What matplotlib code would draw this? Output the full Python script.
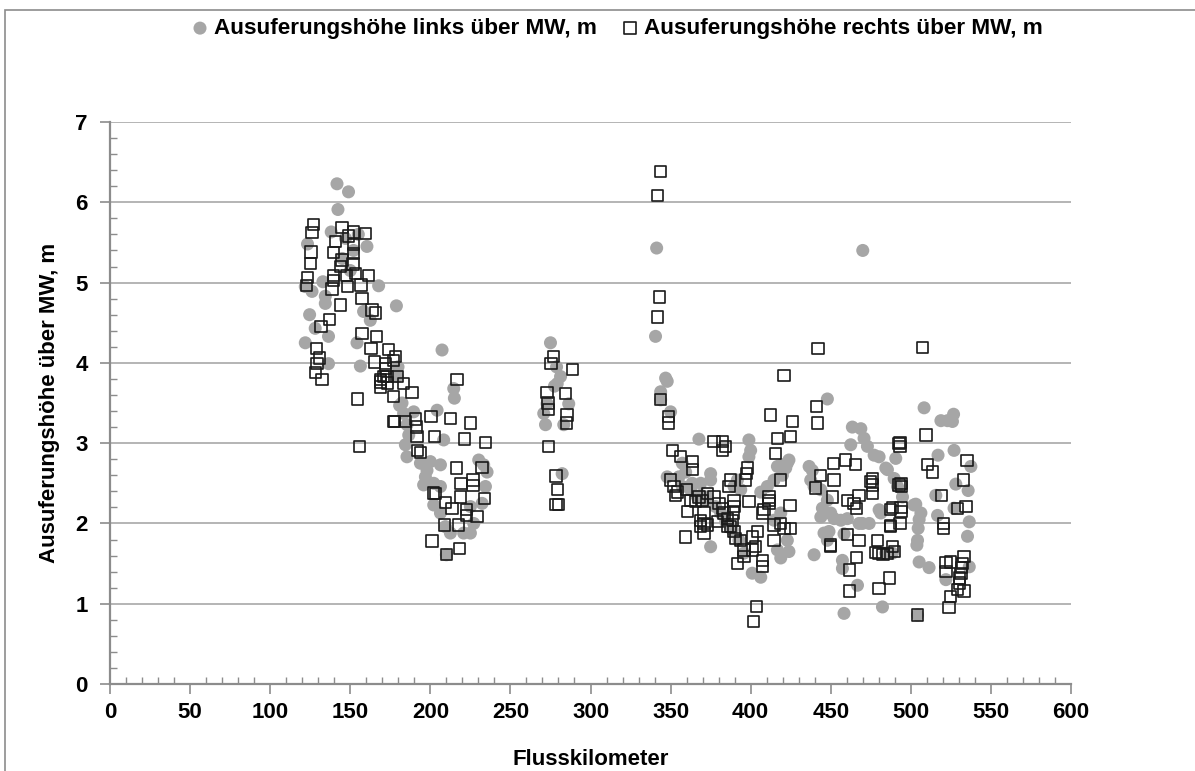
import matplotlib
matplotlib.use("Agg")
import matplotlib.pyplot as plt
from matplotlib.patches import Rectangle
from matplotlib.ticker import MultipleLocator

plt.rcParams["font.family"] = ["Liberation Sans", "DejaVu Sans"]
plt.rcParams["font.weight"] = "bold"

# Ausuferungshöhe links (grey circles): Flusskilometer, Höhe über MW [m]
links_km = [
    141.7, 148.9, 142.3, 138.1, 123.3, 160.4, 167.7, 178.8, 132.9, 121.9, 126.1, 134.4,
    134.4, 124.6, 128.1, 136.4, 121.9, 154.2, 156.3, 136.4, 158.3, 162.5, 179.8, 180.8,
    145.0, 150.0, 152.0, 147.0, 155.0, 179.2, 207.3, 214.6, 215.0, 182.3, 183.3, 189.6,
    185.4, 186.5, 184.4, 185.4, 204.2, 208.3, 193.8, 197.9, 200.0, 206.3, 196.9, 195.8,
    202.1, 206.3, 230.2, 233.3, 235.4, 234.4, 232.3, 225.0, 227.1, 225.0, 220.8, 212.5,
    209.4, 202.1, 206.3, 210.0,
    275.0, 278.8, 281.3, 277.5, 279.2, 270.8, 271.9, 272.9, 286.4, 283.3, 282.3,
    341.3, 340.6, 346.9, 347.9, 343.8, 343.8, 350.0, 367.7, 347.9, 362.5, 368.8, 371.9,
    372.9, 375.0, 375.0, 368.8, 375.0, 398.9, 400.0, 398.9, 357.3, 359.4, 355.2, 357.3,
    363.5, 366.7, 372.9, 378.1, 381.3, 384.4, 388.5, 392.7, 395.8, 389.6, 391.7, 393.8,
    406.3, 410.4, 414.6, 416.7, 419.8, 414.6, 418.8, 422.9, 416.7, 423.9, 422.9, 421.9,
    419.8, 423.9, 401.0, 406.3, 418.8, 447.9, 438.5, 436.5, 439.6, 437.5, 443.8, 447.9,
    443.8, 450.0, 445.8, 447.9, 439.6, 457.3, 457.3, 466.7, 458.3, 463.5, 468.8, 470.8,
    462.5, 472.9, 477.1, 480.2, 484.4, 444.8, 446.9, 452.1, 456.3, 460.4, 467.7, 474.0,
    448.9, 458.3, 482.3, 470.0, 490.6, 485.4, 489.6, 491.7, 494.8, 480.2, 481.3, 469.8,
    501.9, 484.4, 488.5, 508.3, 518.8, 522.9, 526.7, 526.0, 527.0, 517.0, 537.5, 528.1,
    535.8, 515.6, 503.1, 506.3, 505.2, 504.6, 504.2, 503.8, 505.2, 511.4, 516.7, 527.0,
    536.5, 535.4, 536.5, 521.9, 504.2,
]
links_h = [
    6.23, 6.13, 5.91, 5.63, 5.48, 5.45, 4.96, 4.71, 5.01, 4.95, 4.89, 4.83,
    4.74, 4.60, 4.43, 4.33, 4.25, 4.25, 3.96, 3.99, 4.64, 4.53, 3.95, 3.47,
    5.30, 5.15, 5.40, 5.55, 5.60, 3.83, 4.16, 3.68, 3.56, 3.50, 3.37, 3.39,
    3.23, 3.10, 2.98, 2.83, 3.41, 3.04, 2.75, 2.66, 2.77, 2.73, 2.58, 2.48,
    2.50, 2.46, 2.79, 2.73, 2.64, 2.46, 2.25, 2.21, 2.00, 1.88, 1.88, 1.88,
    1.96, 2.23, 2.13, 1.61,
    4.25, 3.95, 3.83, 3.71, 3.74, 3.37, 3.23, 3.49, 3.49, 3.23, 2.62,
    5.43, 4.33, 3.81, 3.77, 3.64, 3.54, 3.39, 3.05, 2.58, 2.42, 2.35, 2.29,
    2.33, 2.62, 2.54, 2.50, 1.71, 3.04, 2.91, 2.83, 2.75, 2.64, 2.58, 2.46,
    2.50, 2.33, 2.29, 2.21, 2.13, 2.02, 1.92, 1.79, 1.63, 2.46, 2.54, 2.42,
    2.39, 2.46, 2.54, 2.71, 2.73, 2.04, 2.13, 1.79, 1.67, 2.79, 2.75, 2.69,
    2.60, 1.65, 1.38, 1.33, 1.57, 3.55, 2.66, 2.71, 2.46, 2.54, 2.42, 2.29,
    2.08, 2.13, 1.88, 1.79, 1.61, 1.54, 1.44, 1.23, 0.88, 3.20, 3.18, 3.06,
    2.98, 2.96, 2.85, 2.83, 2.69, 2.19, 2.13, 2.06, 2.04, 2.06, 2.00, 2.00,
    1.90, 1.87, 0.96, 5.40, 2.81, 2.67, 2.56, 2.46, 2.33, 2.17, 2.13, 2.00,
    2.23, 1.63, 1.63, 3.44, 3.28, 3.28, 3.36, 3.27, 2.91, 2.85, 2.71, 2.49,
    2.41, 2.35, 2.24, 2.13, 2.05, 1.94, 1.79, 1.73, 1.52, 1.45, 2.10, 2.19,
    2.02, 1.84, 1.46, 1.30, 0.86,
]

# Ausuferungshöhe rechts (open squares)
rechts_km = [
    127.1, 126.1, 125.4, 125.0, 123.3, 122.5, 144.8, 152.1, 148.9, 159.4, 140.6, 139.6,
    152.1, 152.1, 144.8, 143.8, 151.7, 147.5, 153.1, 139.6, 139.6, 161.4, 138.6, 148.3,
    156.7, 143.8, 157.3, 163.6, 165.6, 137.1, 131.7, 157.3, 166.3, 128.8, 130.8, 129.2,
    128.1, 132.3, 162.9, 173.9, 165.0, 171.9, 172.9, 168.8, 168.8, 177.1, 177.1, 154.6,
    177.1, 155.8, 178.1, 171.9, 170.8, 168.8, 173.3, 179.2, 183.3, 188.5, 216.7, 177.5,
    184.4, 190.6, 191.3, 191.7, 192.1, 193.8, 200.4, 212.5, 225.0, 234.4, 221.4, 202.5,
    216.3, 219.2, 226.7, 226.7, 232.3, 234.0, 202.1, 203.1, 209.4, 213.5, 218.8, 222.5,
    222.5, 229.2, 208.8, 217.7, 201.0, 218.1, 210.0,
    276.7, 275.4, 288.6, 272.9, 284.4, 273.5, 273.9, 285.4, 285.0, 273.9, 278.5, 279.2,
    278.5, 280.0,
    343.8, 341.9, 343.1, 341.9, 343.8, 348.9, 348.9, 351.0, 356.3, 363.5, 363.5, 350.0,
    352.1, 354.2, 353.1, 360.4, 359.4, 370.8, 368.8, 370.8, 377.1, 382.3, 384.4, 382.3,
    387.5, 386.5, 397.9, 397.5, 396.9, 389.6, 389.6, 389.2, 388.5, 387.5, 389.6, 390.6,
    393.8, 395.8, 395.8, 391.7, 377.1, 380.2, 382.3, 383.3, 385.4, 385.4, 379.2, 372.9,
    370.8, 368.8, 398.9, 401.0, 401.0, 407.3, 407.3, 403.1, 404.2, 408.3, 411.5, 407.3,
    414.6, 418.8, 420.8, 425.0, 414.6, 411.5, 411.5, 418.8, 415.6, 416.7, 412.5, 425.0,
    426.0, 424.6, 403.8, 401.7, 441.3, 441.7, 442.1, 420.8, 440.6, 443.8, 452.1, 451.7,
    451.0, 459.4, 465.6, 460.4, 464.6, 467.7, 466.3, 450.0, 450.0, 460.4, 467.7, 466.3,
    461.5, 461.5, 476.0, 476.0, 476.0, 479.2, 480.2, 485.4, 486.5, 480.2, 487.5, 487.5,
    488.5, 489.6, 492.7, 492.7, 367.7, 369.8, 372.9, 362.5, 365.6, 360.0, 507.3, 509.4,
    493.3, 493.3, 535.0, 510.4, 513.5, 532.9, 519.2, 529.2, 534.4, 520.4, 520.4, 533.3,
    532.3, 531.7, 531.3, 530.4, 530.2, 529.2, 533.3, 525.0, 523.9, 521.9, 524.6, 521.9,
    504.2, 493.8, 494.2, 488.5, 493.8, 493.8, 487.1, 493.3, 478.1, 482.7, 475.0,
]
rechts_h = [
    5.72, 5.62, 5.38, 5.24, 5.06, 4.96, 5.69, 5.63, 5.58, 5.61, 5.51, 5.37,
    5.47, 5.36, 5.28, 5.20, 5.23, 5.09, 5.11, 5.09, 5.03, 5.09, 4.92, 4.95,
    4.97, 4.72, 4.80, 4.66, 4.62, 4.54, 4.45, 4.37, 4.33, 4.18, 4.06, 3.99,
    3.88, 3.79, 4.18, 4.17, 4.01, 3.93, 3.83, 3.79, 3.70, 4.03, 3.58, 3.55,
    3.27, 2.96, 4.08, 3.99, 3.83, 3.76, 3.75, 3.83, 3.74, 3.63, 3.79, 3.27,
    3.27, 3.30, 3.20, 3.08, 2.91, 2.88, 3.33, 3.31, 3.25, 3.01, 3.05, 3.08,
    2.69, 2.50, 2.54, 2.47, 2.70, 2.31, 2.38, 2.37, 2.26, 2.19, 2.33, 2.17,
    2.10, 2.09, 1.98, 1.98, 1.78, 1.69, 1.61,
    4.08, 3.99, 3.92, 3.63, 3.62, 3.50, 3.42, 3.35, 3.25, 2.96, 2.59, 2.42,
    2.24, 2.24,
    6.38, 6.08, 4.82, 4.57, 3.54, 3.33, 3.25, 2.91, 2.83, 2.77, 2.67, 2.54,
    2.46, 2.39, 2.35, 2.15, 1.83, 2.00, 1.96, 1.88, 3.02, 3.02, 2.96, 2.91,
    2.54, 2.46, 2.69, 2.62, 2.54, 2.29, 2.21, 2.13, 2.04, 1.96, 1.90, 1.81,
    1.79, 1.67, 1.59, 1.50, 2.33, 2.25, 2.19, 2.13, 2.06, 1.96, 2.02, 1.98,
    2.13, 2.04, 2.27, 1.83, 1.67, 1.54, 1.46, 1.71, 1.90, 2.17, 2.25, 2.13,
    1.98, 2.00, 1.94, 1.94, 1.79, 2.33, 2.29, 2.54, 2.87, 3.06, 3.35, 3.08,
    3.27, 2.22, 0.97, 0.78, 3.46, 3.25, 4.18, 3.84, 2.44, 2.60, 2.54, 2.75,
    2.33, 2.79, 2.73, 2.29, 2.25, 2.35, 2.19, 1.73, 1.71, 1.86, 1.79, 1.58,
    1.42, 1.16, 2.56, 2.48, 2.37, 1.79, 1.63, 1.63, 1.32, 1.19, 2.17, 1.96,
    1.71, 1.65, 3.00, 2.48, 2.33, 2.29, 2.37, 2.29, 2.27, 2.42, 4.19, 3.10,
    3.01, 2.96, 2.78, 2.73, 2.64, 2.54, 2.35, 2.19, 2.21, 2.00, 1.94, 1.59,
    1.50, 1.45, 1.38, 1.32, 1.26, 1.18, 1.16, 1.09, 0.95, 1.51, 1.52, 1.40,
    0.86, 2.50, 2.46, 2.20, 2.20, 2.15, 1.97, 2.00, 1.64, 1.61, 2.52,
]

fig = plt.figure(figsize=(11.95, 7.71), dpi=100)
ax = fig.add_axes([0.0921, 0.1128, 0.8041, 0.7290])

# outer chart frame like in Excel
fig.patches.append(Rectangle((0.004, -0.05), 1.2, 1.037, transform=fig.transFigure,
                             fill=False, edgecolor="#8c8c8c", linewidth=1.2))

ax.scatter(links_km, links_h, s=88, marker="o", color="#a6a6a6", edgecolors="none",
           label="Ausuferungshöhe links über MW, m", zorder=3)
ax.scatter(rechts_km, rechts_h, s=66, marker="s", facecolors="none", edgecolors="#1a1a1a",
           linewidths=1.2, label="Ausuferungshöhe rechts über MW, m", zorder=4)

ax.set_xlim(0, 600)
ax.set_ylim(0, 7)
ax.xaxis.set_major_locator(MultipleLocator(50))
ax.xaxis.set_minor_locator(MultipleLocator(10))
ax.yaxis.set_major_locator(MultipleLocator(1))
ax.yaxis.set_minor_locator(MultipleLocator(0.2))

ax.grid(axis="y", which="major", color="#a0a0a0", linewidth=1.1, zorder=0)
ax.set_axisbelow(True)

for side in ["top", "right"]:
    ax.spines[side].set_visible(False)
for side in ["left", "bottom"]:
    ax.spines[side].set_color("#8c8c8c")
    ax.spines[side].set_linewidth(1.6)

ax.tick_params(which="major", direction="out", length=7, width=1.2, color="#8c8c8c",
               labelsize=16)
ax.tick_params(axis="x", which="major", pad=6)
ax.tick_params(axis="y", which="major", pad=9)
ax.tick_params(which="minor", direction="in", length=5, width=1.0, color="#8c8c8c")
for lbl in ax.get_xticklabels() + ax.get_yticklabels():
    lbl.set_fontweight("bold")

ax.set_xlabel("Flusskilometer", fontsize=16, fontweight="bold", labelpad=19)
ax.set_ylabel("Ausuferungshöhe über MW, m", fontsize=16, fontweight="bold", labelpad=11)

fig.legend(loc="center", bbox_to_anchor=(0.517, 0.963), ncol=2, frameon=False,
           prop={"size": 16.2, "weight": "bold"}, handlelength=0.6, handletextpad=0.3,
           columnspacing=1.2, markerscale=1.0)

fig.savefig("out.png", dpi=100)
